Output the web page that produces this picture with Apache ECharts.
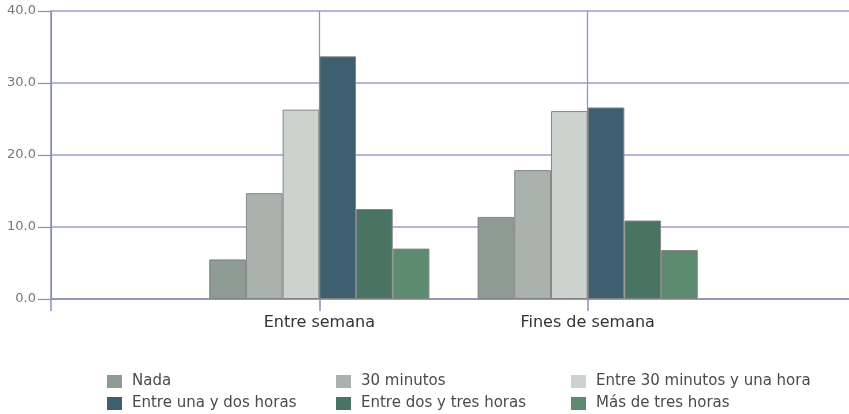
<!DOCTYPE html>
<html>
<head>
<meta charset="utf-8">
<script src="https://cdn.jsdelivr.net/npm/echarts@6/dist/echarts.min.js"></script>
<style>
html,body{margin:0;padding:0;background:#fff;}
#chart{width:849px;height:414px;}
</style>
</head>
<body>
<div id="chart"></div>
<script>
const categories = ['Entre semana', 'Fines de semana'];
const seriesNames = ['Nada', '30 minutos', 'Entre 30 minutos y una hora', 'Entre una y dos horas', 'Entre dos y tres horas', 'Más de tres horas'];
const nada = [5.5, 11.4];
const treintaMinutos = [14.7, 17.9];
const entre30y1 = [26.3, 26.1];
const entre1y2 = [33.7, 26.6];
const entre2y3 = [12.5, 10.9];
const masDe3 = [7.0, 6.8];
const yTicks = [0, 10, 20, 30, 40];

const values = [nada, treintaMinutos, entre30y1, entre1y2, entre2y3, masDe3];
const colors = ['#8e9b94', '#aab2ae', '#ccd3cf', '#3e5f6f', '#497362', '#5c8b6f'];

const axisCats = [''].concat(categories, ['']);
const font = 'DejaVu Sans';

const series = seriesNames.map((name, i) => ({
  name: name,
  type: 'bar',
  barWidth: 36.7,
  barGap: '0%',
  data: [null].concat(values[i], [null]),
  itemStyle: { color: colors[i], borderColor: '#858585', borderWidth: 1 },
  emphasis: { disabled: true }
}));

// legend layout: 3 columns x 2 rows
const legendLefts = [107, 336, 571];
const legendTops = [374, 396];
const legends = seriesNames.map((name, i) => ({
  show: true,
  orient: 'horizontal',
  left: legendLefts[i % 3],
  top: legendTops[Math.floor(i / 3)],
  padding: 0,
  itemWidth: 15,
  itemHeight: 13,
  selectedMode: false,
  icon: 'rect',
  itemStyle: { borderWidth: 0 },
  textStyle: { fontFamily: font, fontSize: 15, color: '#4a4a4a', padding: [0, 0, 0, 5] },
  data: [name]
}));

const chart = echarts.init(document.getElementById('chart'), null, { renderer: 'canvas' });
chart.setOption({
  animation: false,
  backgroundColor: '#fff',
  grid: { left: 51, top: 11, width: 805, height: 288, containLabel: false, outerBoundsMode: 'none' },
  legend: legends,
  xAxis: {
    type: 'category',
    data: axisCats,
    boundaryGap: false,
    axisLine: { show: true, lineStyle: { color: '#8e8eb4', width: 1.5 } },
    axisTick: { show: true, length: 12, lineStyle: { color: '#8e8eb4', width: 1.5 } },
    splitLine: { show: true, lineStyle: { color: '#8e8ed2', width: 1.2 } },
    axisLabel: { fontFamily: font, fontSize: 16, color: '#333', margin: 16 }
  },
  yAxis: {
    type: 'value',
    min: yTicks[0],
    max: yTicks[yTicks.length - 1],
    interval: 10,
    axisLine: { show: true, lineStyle: { color: '#8890a8', width: 1.5 } },
    axisTick: { show: true, length: 13, lineStyle: { color: '#8890a8', width: 1.2 } },
    splitLine: { show: true, lineStyle: { color: '#9e9cc4', width: 1.5 } },
    axisLabel: { fontFamily: font, fontSize: 13, color: '#777', margin: 15, formatter: v => v.toFixed(1) }
  },
  series: series
});
</script>
</body>
</html>
